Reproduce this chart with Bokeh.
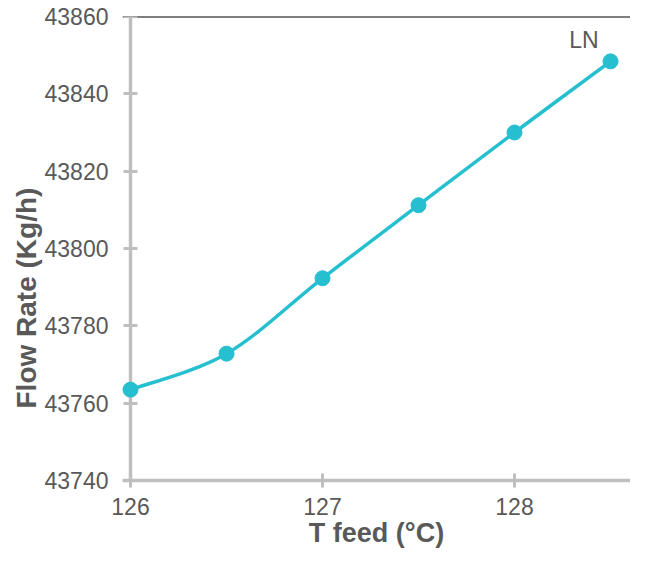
import numpy as np
from bokeh.plotting import figure
from bokeh.models import Range1d, FixedTicker, Span, Title, BasicTickFormatter, LinearAxis
from bokeh.core.properties import value
from bokeh.embed import file_html
from bokeh.resources import INLINE

# data
t_feed = [126.0, 126.5, 127.0, 127.5, 128.0, 128.5]
flow_rate = [43763.5, 43772.8, 43792.3, 43811.2, 43830.0, 43848.4]
series_name = "LN"
x_ticks = [126, 127, 128]
y_ticks = [43740, 43760, 43780, 43800, 43820, 43840, 43860]

LINE_COLOR = "#26bfcf"
TEXT_COLOR = "#595959"
AXIS_COLOR = "#bfbfbf"
FONT = "Liberation Sans"

p = figure(width=630, height=550, output_backend="svg", toolbar_location=None,
           x_range=Range1d(x_ticks[0] - 0.0417, 128.604), y_range=Range1d(y_ticks[0], y_ticks[-1]),
           min_border_left=122, min_border_right=0, min_border_top=16, min_border_bottom=70)
p.outline_line_color = None
p.grid.visible = False
p.background_fill_color = "white"
p.border_fill_color = "white"

# top border line
top = Span(location=y_ticks[-1], dimension="width", line_color="black", line_width=2, level="underlay")
p.add_layout(top)

# smooth curve (Catmull-Rom converted to cubic bezier, from data points)
x = np.array(t_feed); y = np.array(flow_rate)
xp = np.concatenate([[x[0]], x, [x[-1]]]); yp = np.concatenate([[y[0]], y, [y[-1]]])
n = len(x)
x0 = x[:-1]; y0 = y[:-1]; x1 = x[1:]; y1 = y[1:]
cx0 = x0 + (xp[2:n+1] - xp[0:n-1]) / 6.0
cy0 = y0 + (yp[2:n+1] - yp[0:n-1]) / 6.0
cx1 = x1 - (xp[3:n+2] - xp[1:n]) / 6.0
cy1 = y1 - (yp[3:n+2] - yp[1:n]) / 6.0

# x axis
xa = p.xaxis[0]
xa.axis_line_color = AXIS_COLOR
xa.axis_line_width = 3.5
xa.major_tick_line_color = AXIS_COLOR
xa.major_tick_line_width = 3
xa.major_tick_in = 7
xa.major_tick_out = 7
xa.minor_tick_line_color = None
xa.major_label_text_color = TEXT_COLOR
xa.major_label_text_font = FONT
xa.major_label_text_font_size = "23px"
xa.ticker = FixedTicker(ticks=x_ticks)
xa.major_label_standoff = 10
xa.axis_label = "T feed (°C)"
xa.axis_label_text_font = FONT
xa.axis_label_text_font_style = "bold"
xa.axis_label_text_font_size = "27px"
xa.axis_label_text_color = TEXT_COLOR
xa.axis_label_standoff = 0

# y axis: labels only (at frame edge)
ya = p.yaxis[0]
ya.axis_line_color = None
ya.major_tick_line_color = None
ya.minor_tick_line_color = None
ya.major_tick_in = 0
ya.major_tick_out = 0
ya.ticker = FixedTicker(ticks=y_ticks)
ya.formatter = BasicTickFormatter(use_scientific=False)
ya.major_label_text_color = TEXT_COLOR
ya.major_label_text_font = FONT
ya.major_label_text_font_size = "23px"
ya.major_label_standoff = 14

# y axis line and ticks at x = 126
yline = LinearAxis(fixed_location=x_ticks[0], ticker=FixedTicker(ticks=y_ticks),
                   axis_line_color=AXIS_COLOR, axis_line_width=3.5,
                   major_tick_line_color=AXIS_COLOR, major_tick_line_width=3,
                   major_tick_in=7, major_tick_out=7, minor_tick_line_color=None,
                   major_label_text_alpha=0, major_label_text_font_size="1px",
                   major_label_standoff=0)
p.add_layout(yline, "left")

p.bezier(x0=x0, y0=y0, x1=x1, y1=y1, cx0=cx0, cy0=cy0, cx1=cx1, cy1=cy1,
         line_color=LINE_COLOR, line_width=3.5, level="overlay")
p.scatter(t_feed, flow_rate, size=15, fill_color=LINE_COLOR, line_color=LINE_COLOR, level="overlay")

p.text(x=[t_feed[-1]], y=[flow_rate[-1]], text=[series_name], x_offset=-12, y_offset=-8,
       text_align="right", text_baseline="bottom", text_color=TEXT_COLOR,
       text_font=value(FONT), text_font_size="23px")

ytitle = Title(text="Flow Rate (Kg/h)", align="left", offset=72, standoff=0,
               text_font=FONT, text_font_style="bold", text_font_size="28px",
               text_color=TEXT_COLOR)
p.add_layout(ytitle, "left")

open("out.html", "w").write(file_html(p, INLINE))
